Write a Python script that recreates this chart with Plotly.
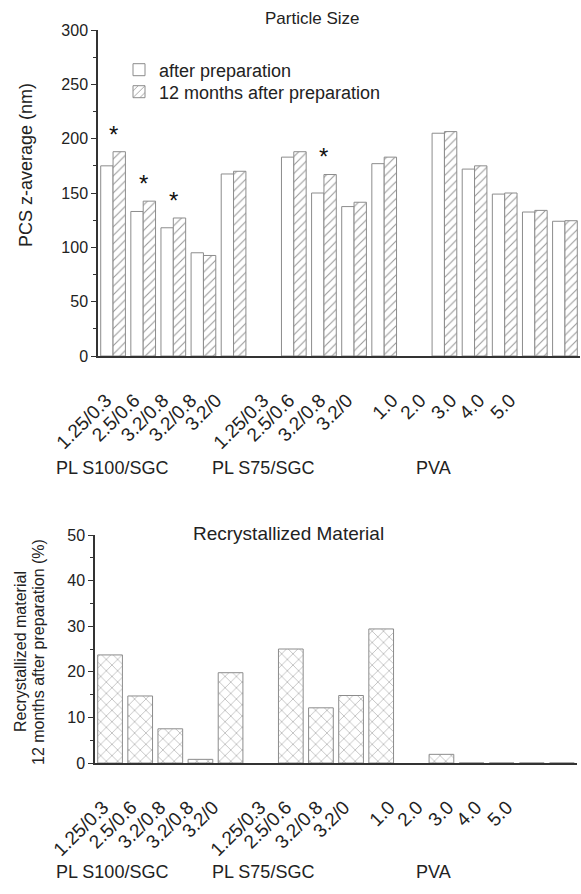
import plotly.graph_objects as go

# ---------------- data ----------------
groups = ["PL S100/SGC", "PL S75/SGC", "PVA"]
group_sizes = [5, 4, 5]
tick_labels = ["1.25/0.3", "2.5/0.6", "3.2/0.8", "3.2/0.8", "3.2/0",
               "1.25/0.3", "2.5/0.6", "3.2/0.8", "3.2/0",
               "1.0", "2.0", "3.0", "4.0", "5.0"]
# where the (rotated) category labels sit on the category axis, as drawn in the original
label_pos = [-0.23, 0.70, 1.66, 2.59, 3.42,
             4.98, 5.84, 6.87, 7.77,
             9.27, 10.20, 11.22, 12.15, 13.18]
after_prep = [175, 133, 118, 95, 167.5, 183, 150, 137.5, 177, 205, 172, 149, 132.5, 124]
after_12m = [188, 142.5, 127, 92.5, 170, 188, 167, 141.5, 183, 206.5, 175, 150, 134, 124.5]
significant = [1, 1, 1, 0, 0, 0, 1, 0, 0, 0, 0, 0, 0, 0]
recrystallized = [23.7, 14.7, 7.5, 0.8, 19.8, 25.0, 12.1, 14.8, 29.4, 1.9, 0, 0, 0, 0]

# category slots with one empty slot between groups
pos = []
p = 0
for n in group_sizes:
    pos += list(range(p, p + n))
    p += n + 1

W, H = 581, 894
FONT = "Arial, Liberation Sans, sans-serif"
TXT = "#222222"
AX = "#333333"
EDGE = "#8c8c8c"

fig = go.Figure()
fig.add_trace(go.Bar(
    x=pos, y=after_prep, name="after preparation", legend="legend",
    marker=dict(color="white", line=dict(color=EDGE, width=1)),
    xaxis="x", yaxis="y"))
fig.add_trace(go.Bar(
    x=pos, y=after_12m, name="12 months after preparation", legend="legend2",
    marker=dict(color="white", line=dict(color=EDGE, width=1),
                pattern=dict(shape="/", fgcolor="#9a9a9a", bgcolor="white", size=6, solidity=0.18)),
    xaxis="x", yaxis="y"))
fig.add_trace(go.Bar(
    x=pos, y=recrystallized, name="recrystallized", showlegend=False,
    marker=dict(color="white", line=dict(color=EDGE, width=1),
                pattern=dict(shape="x", fgcolor="#8c8c8c", bgcolor="white", size=8, solidity=0.12)),
    xaxis="x2", yaxis="y2"))

def px_x(v):
    return v / W

def px_y(v):
    return 1 - v / H

xcommon = dict(range=[-0.5, 15.5], tickmode="array", tickvals=label_pos, ticktext=tick_labels,
               tickangle=-45, showline=True, linecolor=AX, linewidth=1.5, ticks="",
               showgrid=False, zeroline=False, ticklabelstandoff=24, automargin=False,
               tickfont=dict(family=FONT, size=19, color=TXT))
ycommon = dict(showline=True, linecolor=AX, linewidth=1.5, ticks="outside", ticklen=5,
               tickcolor=AX, showgrid=False, zeroline=False, automargin=False,
               tickfont=dict(family=FONT, size=16, color=TXT))
legcommon = dict(xanchor="left", yanchor="middle", bgcolor="rgba(0,0,0,0)",
                 font=dict(family=FONT, size=18, color=TXT), borderwidth=0)

fig.update_layout(
    template="none",
    width=W, height=H, margin=dict(l=0, r=0, t=0, b=0, autoexpand=False),
    paper_bgcolor="white", plot_bgcolor="white",
    barmode="group", bargap=0.18, bargroupgap=0,
    font=dict(family=FONT, color=TXT),
    xaxis=dict(domain=[px_x(98), px_x(580)], anchor="y", **xcommon),
    yaxis=dict(domain=[px_y(356), px_y(30)], anchor="x", range=[0, 300], dtick=50,
               minor=dict(ticks="outside", ticklen=3, dtick=25, tickcolor=AX), **ycommon),
    xaxis2=dict(domain=[px_x(95), px_x(577)], anchor="y2", **xcommon),
    yaxis2=dict(domain=[px_y(763), px_y(535)], anchor="x2", range=[0, 50], dtick=10,
                minor=dict(ticks="outside", ticklen=3, dtick=5, tickcolor=AX), **ycommon),
    legend=dict(x=px_x(119), y=px_y(70), **legcommon),
    legend2=dict(x=px_x(119), y=px_y(92), **legcommon),
)

ann = []
# significance stars above the 12-month bars
for i, s in enumerate(significant):
    if s:
        ann.append(dict(x=pos[i], y=after_12m[i] + 2, xref="x", yref="y", text="*",
                        showarrow=False, font=dict(family=FONT, size=24, color="#111"),
                        xanchor="center", yanchor="bottom"))

def label(x, y, text, size, angle=0):
    ann.append(dict(x=px_x(x), y=px_y(y), xref="paper", yref="paper", text=text,
                    textangle=angle, showarrow=False, xanchor="center", yanchor="middle",
                    font=dict(family=FONT, size=size, color=TXT)))

# titles
label(312, 19, "Particle Size", 17)
label(288, 533, "Recrystallized Material", 19)
# y-axis titles
label(26, 165, "PCS z-average (nm)", 18, -90)
label(20, 652, "Recrystallized material", 16, -90)
label(38, 652, "12 months after preparation (%)", 16, -90)
# group labels
group_x = [112, 263, 433]
for gy in (468, 872):
    for g, gx in zip(groups, group_x):
        label(gx, gy, g, 18)
fig.update_layout(annotations=ann)

fig.write_html("out.html")
